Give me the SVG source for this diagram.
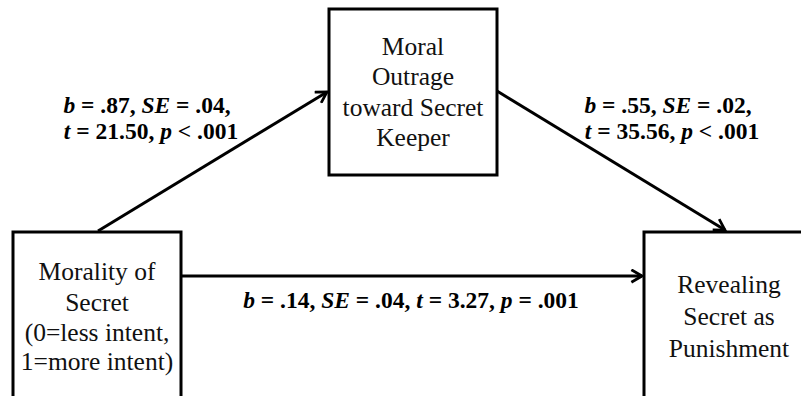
<svg xmlns="http://www.w3.org/2000/svg" width="801" height="396" viewBox="0 0 801 396">
<defs>
<style>
.box{fill:#fff;stroke:#000;stroke-width:3}
.lbl{font-size:25.5px;fill:#111;text-anchor:middle}
.st{font-size:23.5px;font-weight:bold;fill:#000;text-anchor:middle}
.it{font-style:italic}
.con{stroke:#000;stroke-width:3;fill:none;marker-end:url(#ah)}
</style>
<marker id="ah" viewBox="0 0 12 12" refX="10.5" refY="6" markerWidth="5" markerHeight="5" orient="auto" markerUnits="strokeWidth">
<path d="M2,1 L10.5,6 L2,11" fill="none" stroke="#000" stroke-width="2.2" stroke-linejoin="miter"/>
</marker>
</defs>
<rect width="801" height="396" fill="#fff"/>
<g id="connectors">
<line class="con" x1="98" y1="231" x2="327" y2="92"/>
<line class="con" x1="497" y1="91" x2="725" y2="230"/>
<line class="con" x1="181" y1="276" x2="642" y2="276"/>
</g>
<g id="node-morality" font-family="Liberation Serif">
<rect class="box" x="13" y="232" width="168" height="180"/>
<text class="lbl" x="97" y="280">Morality of</text>
<text class="lbl" x="97" y="311">Secret</text>
<text class="lbl" x="97" y="341">(0=less intent,</text>
<text class="lbl" x="97" y="370">1=more intent)</text>
</g>
<g id="node-outrage" font-family="Liberation Serif">
<rect class="box" x="329" y="9" width="168" height="166"/>
<text class="lbl" x="413" y="55">Moral</text>
<text class="lbl" x="413" y="85">Outrage</text>
<text class="lbl" x="413" y="116">toward Secret</text>
<text class="lbl" x="413" y="146">Keeper</text>
</g>
<g id="node-revealing" font-family="Liberation Serif">
<rect class="box" x="644" y="232" width="170" height="180"/>
<text class="lbl" x="729" y="293">Revealing</text>
<text class="lbl" x="729" y="325">Secret as</text>
<text class="lbl" x="729" y="357">Punishment</text>
</g>
<g id="labels" font-family="Liberation Serif">
<text class="st" x="147" y="113"><tspan class="it">b</tspan> = .87, <tspan class="it">SE</tspan> = .04,</text>
<text class="st" x="151" y="139"><tspan class="it">t</tspan> = 21.50, <tspan class="it">p</tspan> &lt; .001</text>
<text class="st" x="668" y="113"><tspan class="it">b</tspan> = .55, <tspan class="it">SE</tspan> = .02,</text>
<text class="st" x="672" y="139"><tspan class="it">t</tspan> = 35.56, <tspan class="it">p</tspan> &lt; .001</text>
<text class="st" x="411" y="308"><tspan class="it">b</tspan> = .14, <tspan class="it">SE</tspan> = .04, <tspan class="it">t</tspan> = 3.27, <tspan class="it">p</tspan> = .001</text>
</g>
</svg>
